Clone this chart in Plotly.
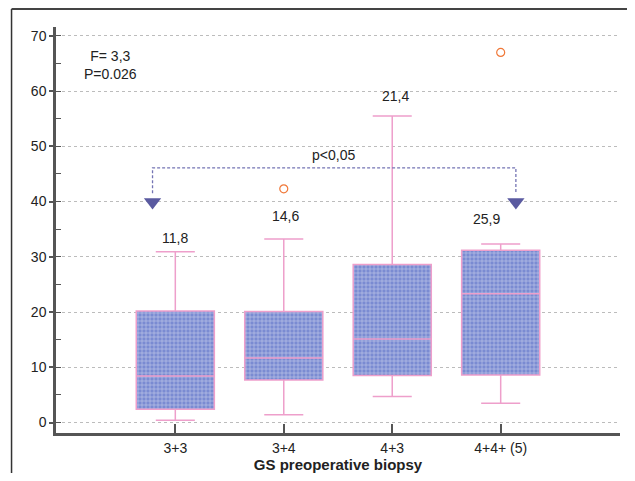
import plotly.graph_objects as go

categories = ["3+3", "3+4", "4+3", "4+4+ (5)"]
xpos = [0, 1, 2, 3]
lower_whisker = [0.4, 1.4, 4.7, 3.5]
q1 = [2.4, 7.7, 8.5, 8.6]
median = [8.4, 11.7, 15.1, 23.3]
q3 = [20.2, 20.1, 28.6, 31.2]
upper_whisker = [30.9, 33.2, 55.5, 32.3]
outlier_x = [1, 3]
outlier_y = [42.3, 67.0]
mean_labels = ["11,8", "14,6", "21,4", "25,9"]
label_x = [0, 1.02, 2.03, 2.87]
label_y = [33.4, 37.3, 59.1, 36.8]

pink = "#ee9fcb"
axis_col = "#555555"
font = "Liberation Sans, Arial, sans-serif"

# page body has an 8px margin: the figure starts at (8, 8)
W, H = 619, 465
L, R, T, B = 47.5, 7, 19, 40
pw = W - L - R
ph = H - T - B

fig = go.Figure()

# patterned box fill
fig.add_trace(go.Bar(
    x=xpos, y=[b - a for a, b in zip(q1, q3)], base=q1, width=0.72,
    marker=dict(color="#7a8bd2", line=dict(width=0),
                pattern=dict(shape="+", fgcolor="#ffffff", bgcolor="#7a8bd2", size=4, solidity=0.3)),
    hoverinfo="skip", showlegend=False))

fig.add_trace(go.Box(
    x=xpos, q1=q1, median=median, q3=q3, lowerfence=lower_whisker, upperfence=upper_whisker,
    width=0.72, whiskerwidth=0.5, fillcolor="rgba(0,0,0,0)",
    line=dict(color=pink, width=1.5), showlegend=False))

fig.add_trace(go.Scatter(
    x=outlier_x, y=outlier_y, mode="markers",
    marker=dict(symbol="circle-open", size=8, color="#f07838", line=dict(width=1.2)),
    showlegend=False))

# bracket
bx0, bx1, by_top, by_tip = -0.21, 3.14, 46.1, 41.5
fig.add_shape(type="path", xref="x", yref="y",
              path=f"M {bx0},{by_tip} L {bx0},{by_top} L {bx1},{by_top} L {bx1},{by_tip}",
              line=dict(color="#7474b4", width=1.3, dash="3px,2px"))
fig.add_trace(go.Scatter(
    x=[bx0, bx1], y=[39.9, 39.9], mode="markers",
    marker=dict(symbol="triangle-down", size=15, color="#5a5aa0"),
    showlegend=False, hoverinfo="skip"))

for t, xx, yy in zip(mean_labels, label_x, label_y):
    fig.add_annotation(x=xx, y=yy, text=t, showarrow=False,
                       font=dict(family=font, size=14, color="#222"))
fig.add_annotation(x=1.46, y=48.5, text="p<0,05", showarrow=False,
                   font=dict(family=font, size=14, color="#222"))
fig.add_annotation(x=-0.6, y=64.7, text="F= 3,3<br>P=0.026", showarrow=False,
                   font=dict(family=font, size=14, color="#222"))

# outer frame (page pixels -> paper coords)
def px_x(p):
    return (p - 8 - L) / pw

def px_y(p):
    return (H - B - (p - 8)) / ph

fig.add_shape(type="line", xref="paper", yref="paper", x0=px_x(11), x1=px_x(11), y0=px_y(9), y1=px_y(481),
              line=dict(color="#333", width=1.5))
fig.add_shape(type="line", xref="paper", yref="paper", x0=px_x(11), x1=px_x(627), y0=px_y(9), y1=px_y(9),
              line=dict(color="#444", width=2))

fig.update_layout(
    width=W, height=H, margin=dict(l=L, r=R, t=T, b=B, autoexpand=False),
    plot_bgcolor="white", paper_bgcolor="white",
    font=dict(family=font, size=14, color="#222"),
    bargap=0,
    xaxis=dict(range=[-1.1, 4.1], tickvals=xpos, ticktext=categories,
               showline=True, linecolor=axis_col, linewidth=2.5,
               ticks="inside", ticklen=9, tickwidth=2, tickcolor=axis_col,
               showgrid=False, zeroline=False,
               tickfont=dict(size=14),
               title=dict(text="<b>GS preoperative biopsy</b>", font=dict(size=15), standoff=4)),
    yaxis=dict(range=[-1.9, 71.6], dtick=10, tick0=0,
               showline=True, linecolor=axis_col, linewidth=2.5,
               ticks="outside", ticklen=4, tickwidth=2, tickcolor=axis_col,
               showgrid=True, gridcolor="#bcbcbc", griddash="dot", gridwidth=1,
               zeroline=False, tickfont=dict(size=14),
               minor=dict(dtick=5, ticks="inside", ticklen=5, tickwidth=1, tickcolor=axis_col, showgrid=False)),
)

fig.write_html("out.html")
